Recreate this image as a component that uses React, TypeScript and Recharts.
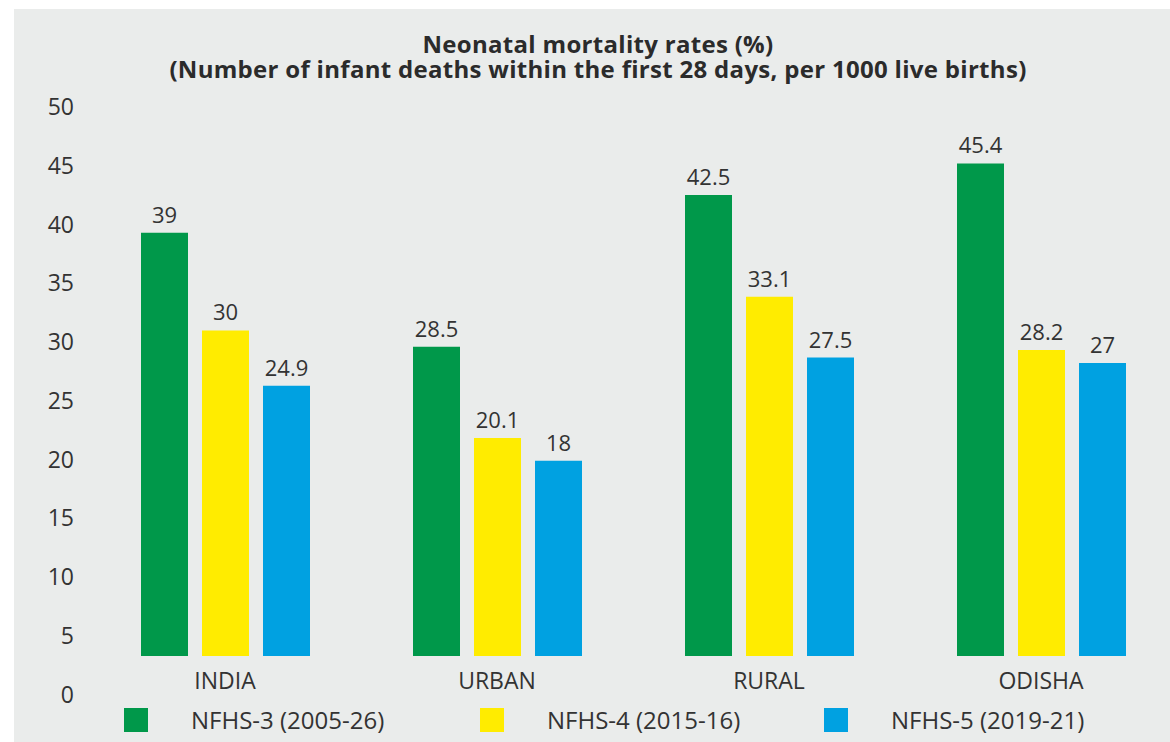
import React from "react";
import { ComposedChart, Bar, Line, XAxis, YAxis, LabelList, Legend } from "recharts";

const categories = ["INDIA", "URBAN", "RURAL", "ODISHA"];
const nfhs3 = [39, 28.5, 42.5, 45.4];
const nfhs4 = [30, 20.1, 33.1, 28.2];
const nfhs5 = [24.9, 18, 27.5, 27];
const seriesKeys = ["nfhs3", "nfhs4", "nfhs5"];
const seriesNames = ["NFHS-3 (2005-26)", "NFHS-4 (2015-16)", "NFHS-5 (2019-21)"];
const seriesColors = ["#00984a", "#ffec00", "#00a1e1"];
const yTicks = [0, 5, 10, 15, 20, 25, 30, 35, 40, 45, 50];
const titleLines = [
  "Neonatal mortality rates (%)",
  "(Number of infant deaths within the first 28 days, per 1000 live births)",
];

const data = categories.map((c, i) => ({
  name: c,
  nfhs3: nfhs3[i],
  nfhs4: nfhs4[i],
  nfhs5: nfhs5[i],
}));

const FONT = "'Open Sans', 'DejaVu Sans', sans-serif";
const TEXT = "#333333";

const CategoryTick = (props: any) => {
  const { x, y, payload } = props;
  return (
    <text
      x={x}
      y={y - 6}
      textAnchor="middle"
      fill={TEXT}
      fontSize={23}
      fontFamily={FONT}
    >
      {payload.value}
    </text>
  );
};

const legendLefts = [124, 480, 824];

const LegendContent = () => (
  <div style={{ position: "relative", height: 24, width: "100%" }}>
    {seriesNames.map((n, i) => (
      <div
        key={n}
        style={{
          position: "absolute",
          left: legendLefts[i],
          top: 0,
          height: 24,
          display: "flex",
          alignItems: "center",
          whiteSpace: "nowrap",
        }}
      >
        <div style={{ width: 24, height: 24, background: seriesColors[i] }} />
        <span
          style={{
            marginLeft: 43,
            fontFamily: FONT,
            fontSize: 24,
            color: TEXT,
            lineHeight: "24px",
          }}
        >
          {n}
        </span>
      </div>
    ))}
  </div>
);

export default function App() {
  return (
    <div
      style={{
        position: "absolute",
        left: 0,
        top: 0,
        width: 1170,
        height: 742,
        overflow: "hidden",
        background: "#ffffff",
      }}
    >
      <div
        style={{
          position: "absolute",
          left: 14,
          top: 9,
          right: 0,
          bottom: 0,
          background: "#eaeceb",
        }}
      />
      <div
        style={{
          position: "absolute",
          left: 148,
          width: 900,
          top: 31,
          textAlign: "center",
          fontFamily: FONT,
          fontWeight: 700,
          fontSize: 24,
          letterSpacing: 0.3,
          lineHeight: "25px",
          color: "#2b2b2b",
          whiteSpace: "nowrap",
        }}
      >
        {titleLines.map((t) => (
          <div key={t} style={{ height: 25 }}>{t}</div>
        ))}
      </div>
      <div style={{ position: "absolute", left: 0, top: 0 }}>
        <ComposedChart
          width={1180}
          height={742}
          data={data}
          margin={{ top: 107, right: 3, left: 0, bottom: 10 }}
          barGap={14}
        >
          <XAxis
            dataKey="name"
            tick={<CategoryTick />}
            tickLine={false}
            axisLine={false}
            tickSize={0}
            tickMargin={0}
            height={13.5}
            interval={0}
          />
          <YAxis
            yAxisId="axis"
            domain={[0, 50]}
            ticks={yTicks}
            interval={0}
            axisLine={false}
            tickLine={false}
            tickSize={0}
            tickMargin={15}
            width={89}
            allowDataOverflow
            tick={{ fill: TEXT, fontSize: 23, fontFamily: FONT }}
          />
          <YAxis
            yAxisId="bars"
            hide
            domain={[-3.55, 50.6]}
            allowDataOverflow
          />
          <Legend
            verticalAlign="bottom"
            align="left"
            content={<LegendContent />}
          />
          {seriesKeys.map((k, i) => (
            <Bar
              key={k}
              dataKey={k}
              name={seriesNames[i]}
              yAxisId="bars"
              fill={seriesColors[i]}
              barSize={47}
              isAnimationActive={false}
            >
              <LabelList
                dataKey={k}
                position="top"
                offset={10}
                fill={TEXT}
                fontSize={22}
                fontFamily={FONT}
              />
            </Bar>
          ))}
          <Line
            yAxisId="axis"
            dataKey="nfhs3"
            stroke="none"
            dot={false}
            activeDot={false}
            legendType="none"
            isAnimationActive={false}
          />
        </ComposedChart>
      </div>
    </div>
  );
}
